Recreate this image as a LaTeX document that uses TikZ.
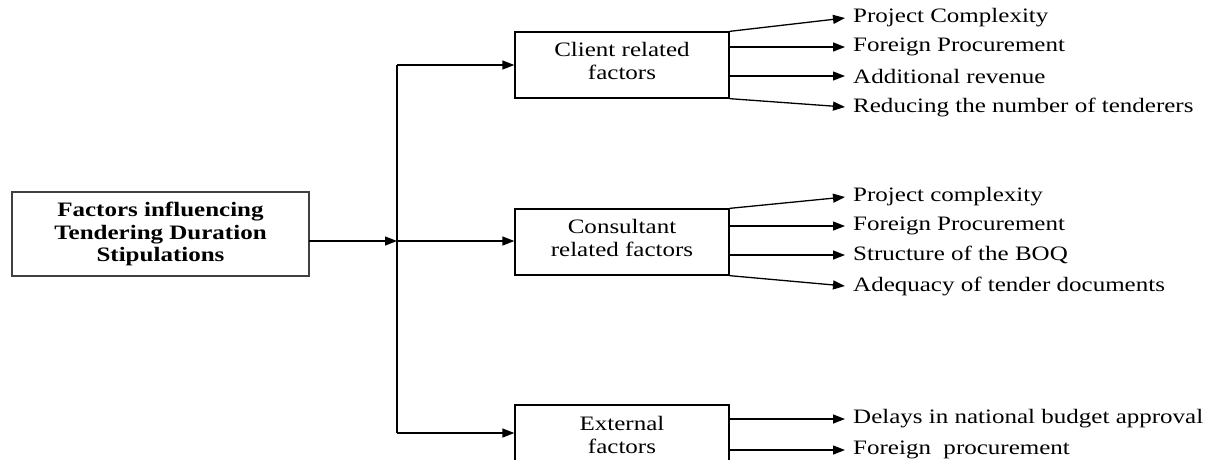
\documentclass[tikz,border=0pt]{standalone}
\usepackage{fontspec}
\setmainfont{Liberation Serif}[FakeStretch=1.22]
\usetikzlibrary{arrows.meta}
\tikzset{
  every picture/.style={x=1pt,y=-1pt},
  box/.style={draw=black,line width=1.3pt,minimum width=214pt,inner sep=0pt},
  boxtext/.style={align=center,inner sep=0pt,font=\fontsize{20.5}{23}\selectfont},
  mainbox/.style={draw=black!75,line width=2pt,minimum width=297pt,minimum height=84pt,align=center,
    inner sep=0pt,font=\fontsize{20.5}{22.5}\selectfont\bfseries},
  item/.style={anchor=west,inner xsep=8pt,inner ysep=0pt,font=\fontsize{20.5}{24}\selectfont},
  arr/.style={line width=1.3pt,-{Triangle[length=12pt,width=9pt]}},
  ln/.style={line width=1.3pt}
}
\begin{document}
\begin{tikzpicture}
\clip (0,0) rectangle (1217,459);
\node[mainbox] (main) at (160.5,234) {Factors influencing\\Tendering Duration\\Stipulations};
\node[box,minimum height=66pt,label={[boxtext,yshift=4pt]center:Client related\\factors}] (client) at (622,65) {};
\node[box,minimum height=66pt,label={[boxtext,yshift=4pt]center:Consultant\\related factors}] (cons) at (622,242) {};
\node[box,minimum height=60pt,label={[boxtext]center:External\\factors}] (ext) at (622,435) {};

\coordinate (jtop) at (397,65);
\coordinate (jmid) at (397,241);
\coordinate (jbot) at (397,433);
\coordinate (mout) at (309,241);

\draw[ln] (jtop) -- (jbot);
\draw[arr] (mout) -- (jmid);
\draw[arr] (jtop) -- (client.west);
\draw[arr] (jmid) -- (cons.west |- jmid);
\draw[arr] (jbot) -- (ext.west |- jbot);

\node[item] (c1) at (845,18) {Project Complexity};
\node[item] (c2) at (845,47) {Foreign Procurement};
\node[item] (c3) at (845,76) {Additional revenue};
\node[item] (c4) at (845,107) {Reducing the number of tenderers};
\draw[arr] (client.north east) -- (c1.west);
\draw[arr] (client.east |- c2.west) -- (c2.west);
\draw[arr] (client.east |- c3.west) -- (c3.west);
\draw[arr] (client.south east) -- (c4.west);

\node[item] (k1) at (845,197) {Project complexity};
\node[item] (k2) at (845,226) {Foreign Procurement};
\node[item] (k3) at (845,255) {Structure of the BOQ};
\node[item] (k4) at (845,286) {Adequacy of tender documents};
\draw[arr] (cons.north east) -- (k1.west);
\draw[arr] (cons.east |- k2.west) -- (k2.west);
\draw[arr] (cons.east |- k3.west) -- (k3.west);
\draw[arr] (cons.south east) -- (k4.west);

\node[item] (e1) at (845,419) {Delays in national budget approval};
\node[item] (e2) at (845,450) {Foreign\ \ procurement};
\draw[arr] (ext.east |- e1.west) -- (e1.west);
\draw[arr] (ext.east |- e2.west) -- (e2.west);
\end{tikzpicture}
\end{document}
